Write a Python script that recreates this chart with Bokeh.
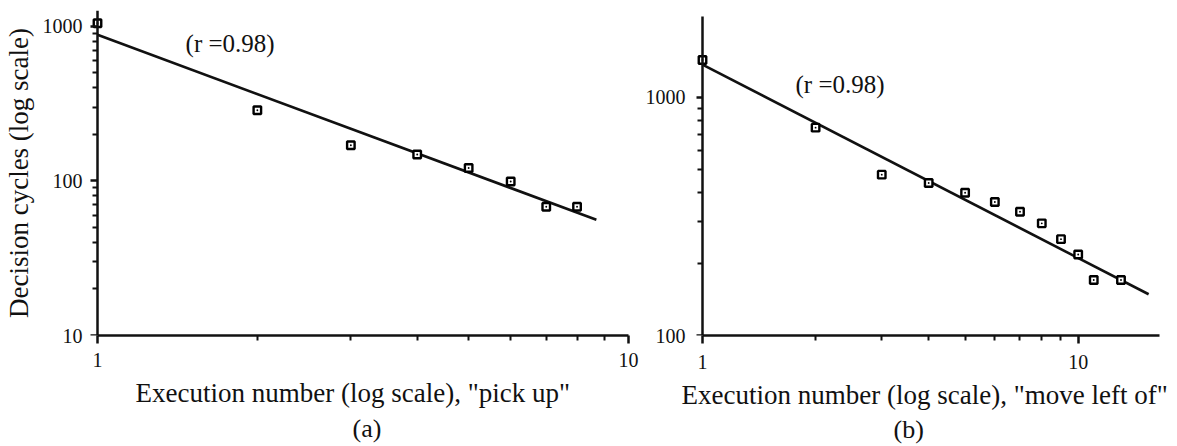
from bokeh.plotting import figure
from bokeh.layouts import row
from bokeh.models import (FixedTicker, Label, Range1d, NumeralTickFormatter, Title,
                          LogAxis, CustomJSTickFormatter)
from bokeh.embed import file_html
from bokeh.resources import INLINE

# ---- data ----
# Panel (a): "pick up"
a_exec = [1, 2, 3, 4, 5, 6, 7, 8]
a_cycles = [1045, 286, 170, 148, 121, 99, 68, 68]
a_fit_x = [1, 8.7]
a_fit_y = [880, 56]

# Panel (b): "move left of"
b_exec = [1, 2, 3, 4, 5, 6, 7, 8, 9, 10, 11, 13]
b_cycles = [1438, 747, 474, 437, 398, 364, 331, 296, 254, 219, 171, 171]
b_fit_x = [1, 15.4]
b_fit_y = [1374, 149]

r_text = "(r  =0.98)"
x_major = [1, 10]
x_minor = [2, 3, 4, 5, 6, 7, 8, 9]
ya_major = [10, 100, 1000]
ya_minor = [20, 30, 40, 50, 60, 70, 80, 90, 200, 300, 400, 500, 600, 700, 800, 900]
yb_major = [100, 1000]
yb_minor = [200, 300, 400, 500, 600, 700, 800, 900]

FONT = "Liberation Serif"
INK = "#111111"


def text_style(ax):
    ax.major_label_text_font = FONT
    ax.major_label_text_font_size = "20px"
    ax.major_label_text_color = INK
    ax.axis_label_text_font = FONT
    ax.axis_label_text_font_size = "27px"
    ax.axis_label_text_font_style = "normal"
    ax.axis_label_text_color = INK
    ax.formatter = NumeralTickFormatter(format="0")


def line_style(ax):
    ax.axis_line_width = 2.5
    ax.axis_line_color = INK
    ax.major_tick_line_width = 2.5
    ax.major_tick_line_color = INK
    ax.minor_tick_line_width = 2
    ax.minor_tick_line_color = INK


def setup(p, y_major, y_minor, x_end, y_bounds, label_gap):
    p.outline_line_color = None
    p.xgrid.visible = False
    p.ygrid.visible = False
    xa = p.xaxis[0]
    text_style(xa)
    line_style(xa)
    xa.major_tick_in = 0
    xa.major_tick_out = 8
    xa.minor_tick_in = 0
    xa.minor_tick_out = 5
    xa.bounds = (1, x_end)
    xa.ticker = FixedTicker(ticks=x_major, minor_ticks=x_minor)
    # left axis: carries the numbers (and the title of the axis)
    ya = p.yaxis[0]
    text_style(ya)
    ya.ticker = FixedTicker(ticks=y_major, minor_ticks=y_minor)
    ya.axis_line_color = None
    ya.major_tick_line_color = None
    ya.minor_tick_line_color = None
    ya.major_tick_in = 0
    ya.major_tick_out = 8
    ya.minor_tick_in = 0
    ya.minor_tick_out = 0
    ya.major_label_standoff = label_gap
    # the drawn y axis line and ticks sit at x = 1 (markers there are not cut)
    rule = LogAxis(ticker=FixedTicker(ticks=y_major, minor_ticks=y_minor),
                   formatter=CustomJSTickFormatter(code="return ''"),
                   fixed_location=1, bounds=y_bounds, major_label_standoff=0,
                   major_tick_in=8, major_tick_out=0,
                   minor_tick_in=5, minor_tick_out=0)
    line_style(rule)
    p.add_layout(rule, "right")


def panel_title(text, offset, standoff):
    return Title(text=text, align="left", offset=offset, standoff=standoff,
                 text_font=FONT, text_font_size="26px",
                 text_font_style="normal", text_color=INK)


def points(p, xs, ys):
    p.scatter(xs, ys, marker="square_dot", size=7.5, line_width=2.4,
              line_color="#000000", fill_color="white")


# ---- panel (a) ----
pa = figure(width=640, height=446, x_axis_type="log", y_axis_type="log",
            x_range=Range1d(0.9701, 10), y_range=Range1d(10, 1263),
            output_backend="svg", toolbar_location=None, title=None,
            min_border_left=90, min_border_right=12, min_border_top=10,
            min_border_bottom=111)
setup(pa, ya_major, ya_minor, 10, (10, 1263), 0)
pa.xaxis.axis_label = 'Execution number  (log scale), "pick  up"'
pa.yaxis[0].axis_label = "Decision cycles (log scale)"
pa.xaxis.major_label_standoff = 9
pa.xaxis.axis_label_standoff = 8
pa.yaxis[0].axis_label_standoff = 6
pa.line(a_fit_x, a_fit_y, line_width=2.6, line_color=INK)
points(pa, a_exec, a_cycles)
pa.add_layout(Label(x=1.465, y=773, text=r_text, text_baseline="middle",
                    text_font=FONT, text_font_size="25px", text_color=INK))
pa.add_layout(panel_title("(a)", 262, 2), "below")

# ---- panel (b) ----
pb = figure(width=537, height=446, x_axis_type="log", y_axis_type="log",
            x_range=Range1d(0.9639, 16.46), y_range=Range1d(100, 2320),
            output_backend="svg", toolbar_location=None, title=None,
            min_border_left=56, min_border_right=18, min_border_top=10,
            min_border_bottom=111)
setup(pb, yb_major, yb_minor, 16.46, (100, 2189), 3)
pb.xaxis.axis_label = 'Execution number  (log scale), "move left of"'
pb.xaxis.major_label_standoff = 11
pb.xaxis.axis_label_standoff = 8
pb.line(b_fit_x, b_fit_y, line_width=2.6, line_color=INK)
points(pb, b_exec, b_cycles)
pb.add_layout(Label(x=1.768, y=1135, text=r_text, text_baseline="middle",
                    text_font=FONT, text_font_size="25px", text_color=INK))
pb.add_layout(panel_title("(b)", 197, 0), "below")

layout = row(pa, pb)
open("out.html", "w").write(file_html(layout, INLINE))
